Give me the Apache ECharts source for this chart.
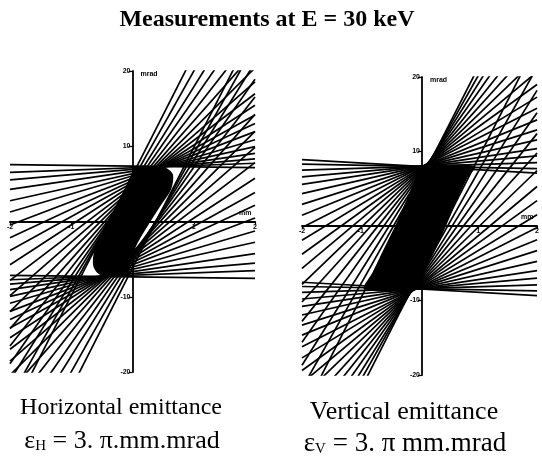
<!DOCTYPE html>
<html>
<head>
<meta charset="utf-8">
<title>Measurements at E = 30 keV</title>
<script src="https://cdn.jsdelivr.net/npm/echarts@6/dist/echarts.min.js"></script>
<style>
  html, body { margin: 0; padding: 0; background: #fff; }
  #chart { width: 542px; height: 470px; }
</style>
</head>
<body>
<div id="chart"></div>
<script>
// phase-space window of both plots (mm, mrad)
const xRange = [-2, 2]
const yRange = [-20, 20]

// horizontal plane: slope of each measured line (mrad/mm) and the
// intercepts at x = 0 (mrad) of its upper and lower line
const hSlopes = [-0.1, 0.3, 0.7, 1.2, 1.8, 2.4, 3.1, 3.8, 4.5, 5.3, 6.2, 7.1, 8.1, 9.2, 10.4, 11.7, 13, 14.5, 16]
const hUpper = [7.36, 7.14, 6.93, 6.66, 6.36, 6.07, 5.74, 5.43, 5.15, 4.85, 4.58, 4.36, 4.21, 4.16, 4.25, 4.5, 4.89, 5.48, 6.17]
const hLower = [-7.36, -7.14, -6.93, -6.66, -6.36, -6.07, -5.74, -5.43, -5.15, -4.85, -4.58, -4.36, -4.21, -4.16, -4.25, -4.5, -4.89, -5.48, -6.17]

// vertical plane
const vSlopes = [-0.45, -0.15, 0.25, 0.7, 1.2, 1.8, 2.5, 3.2, 4.0, 4.8, 5.7, 6.6, 7.6, 8.7, 9.9, 11.2, 12.6, 14.0, 15.5]
const vUpper = [8.0, 8.0, 8.0, 8.0, 7.98, 7.95, 7.9, 7.85, 7.8, 7.7, 7.6, 7.5, 7.35, 7.2, 7.0, 6.8, 6.5, 6.2, 5.8]
const vLower = [-8.45, -8.42, -8.4, -8.4, -8.38, -8.35, -8.3, -8.25, -8.2, -8.1, -8.0, -7.9, -7.75, -7.6, -7.4, -7.2, -7.0, -6.7, -6.4]

// outline of the filled emittance area (mm, mrad)
const hBlob = [
  [0.06, 7.26], [0.39, 7.35], [0.55, 7.12], [0.66, 6.24], [0.63, 4.25], [0.49, 2.48],
  [0.28, -0.18], [0.06, -3.27], [-0.05, -5.93], [-0.08, -7.26], [-0.32, -7.26], [-0.54, -7.04],
  [-0.64, -5.93], [-0.62, -3.72], [-0.48, -1.06], [-0.29, 1.59], [-0.13, 4.25], [-0.02, 6.24]
]
const vBlob = [
  [0, 7.95], [0.94, 8.04], [0.8, 6.25], [0.64, 3.57], [0.5, 0.89], [0.3, -2.68], [0.08, -6.25],
  [-0.03, -8.39], [-0.94, -8.48], [-0.8, -6.25], [-0.61, -3.13], [-0.39, 0.45], [-0.17, 4.46], [-0.03, 7.14]
]

const ink = '#000'
const serif = '"Liberation Serif", "DejaVu Serif", serif'

// grids: [left, top, width, height]
const grids = [[10, 71, 245, 301], [302, 77, 240, 298]]

function pairLines(slopes, upper, lower) {
  const out = []
  slopes.forEach((m, i) => {
    [upper[i], lower[i]].forEach(b => {
      out.push({ coords: [[xRange[0], b + m * xRange[0]], [xRange[1], b + m * xRange[1]]] })
    })
  })
  return out
}

// axes cross at the origin, which sits in the middle of each grid
function xAxisFor(idx) {
  return {
    gridIndex: idx,
    type: 'value',
    min: xRange[0],
    max: xRange[1],
    interval: 1,
    position: 'bottom',
    offset: -grids[idx][3] / 2,
    name: 'mm',
    nameLocation: 'end',
    nameGap: -16,
    nameTextStyle: { color: ink, fontSize: 7, fontWeight: 'bold', verticalAlign: 'bottom', padding: [0, 0, 5, 0] },
    axisLine: { onZero: false, lineStyle: { color: ink, width: 1.8 } },
    axisTick: { length: 3, lineStyle: { color: ink, width: 1.2 } },
    axisLabel: {
      color: ink,
      fontSize: 7,
      fontWeight: 'bold',
      margin: 2,
      formatter: v => (v === 0 ? '' : v)
    },
    splitLine: { show: false }
  }
}

function yAxisFor(idx) {
  return {
    gridIndex: idx,
    type: 'value',
    min: yRange[0],
    max: yRange[1],
    interval: 10,
    position: 'left',
    offset: -grids[idx][2] / 2,
    name: 'mrad',
    nameLocation: 'end',
    nameGap: -3,
    nameTextStyle: { color: ink, fontSize: 7, fontWeight: 'bold', align: 'left', verticalAlign: 'middle', padding: [0, 0, 0, 8] },
    axisLine: { onZero: false, lineStyle: { color: ink, width: 1.8 } },
    axisTick: { length: 4, lineStyle: { color: ink, width: 1.2 } },
    axisLabel: {
      color: ink,
      fontSize: 7,
      fontWeight: 'bold',
      margin: 2,
      formatter: v => (v === 0 ? '' : v)
    },
    splitLine: { show: false }
  }
}

function lineSeries(idx, data) {
  return {
    type: 'lines',
    coordinateSystem: 'cartesian2d',
    xAxisIndex: idx,
    yAxisIndex: idx,
    polyline: false,
    clip: true,
    silent: true,
    data,
    lineStyle: { color: ink, width: 1.7, opacity: 1 }
  }
}

function blobSeries(idx, points) {
  return {
    type: 'custom',
    xAxisIndex: idx,
    yAxisIndex: idx,
    clip: true,
    silent: true,
    data: [points[0]],
    renderItem(params, api) {
      return {
        type: 'polygon',
        shape: { points: points.map(p => api.coord(p)), smooth: 0.3 },
        style: { fill: ink }
      }
    }
  }
}

const chart = echarts.init(document.getElementById('chart'))
chart.setOption({
  animation: false,
  backgroundColor: '#fff',
  grid: grids.map(g => ({ left: g[0], top: g[1], width: g[2], height: g[3] })),
  xAxis: [xAxisFor(0), xAxisFor(1)],
  yAxis: [yAxisFor(0), yAxisFor(1)],
  series: [
    blobSeries(0, hBlob),
    lineSeries(0, pairLines(hSlopes, hUpper, hLower)),
    blobSeries(1, vBlob),
    lineSeries(1, pairLines(vSlopes, vUpper, vLower))
  ],
  graphic: [
    {
      type: 'text',
      x: 267,
      y: 20,
      style: {
        text: 'Measurements at E = 30 keV',
        fill: ink,
        font: 'bold 24px ' + serif,
        textAlign: 'center',
        textVerticalAlign: 'middle'
      }
    },
    {
      type: 'text',
      x: 121,
      y: 408,
      style: {
        text: 'Horizontal emittance',
        fill: ink,
        font: '24px ' + serif,
        textAlign: 'center',
        textVerticalAlign: 'middle'
      }
    },
    {
      type: 'text',
      x: 122,
      y: 441,
      style: {
        text: '{e|ε}{s|H}{e| = 3. π.mm.mrad}',
        textAlign: 'center',
        textVerticalAlign: 'middle',
        rich: {
          e: { fontFamily: serif, fontSize: 26, color: ink },
          s: { fontFamily: serif, fontSize: 15, color: ink, padding: [10, 0, 0, 0] }
        }
      }
    },
    {
      type: 'text',
      x: 404,
      y: 412,
      style: {
        text: 'Vertical emittance',
        fill: ink,
        font: '26px ' + serif,
        textAlign: 'center',
        textVerticalAlign: 'middle'
      }
    },
    {
      type: 'text',
      x: 405,
      y: 444,
      style: {
        text: '{e|ε}{s|V}{e| = 3. π mm.mrad}',
        textAlign: 'center',
        textVerticalAlign: 'middle',
        rich: {
          e: { fontFamily: serif, fontSize: 27, color: ink },
          s: { fontFamily: serif, fontSize: 15, color: ink, padding: [10, 0, 0, 0] }
        }
      }
    }
  ]
})
</script>
</body>
</html>
